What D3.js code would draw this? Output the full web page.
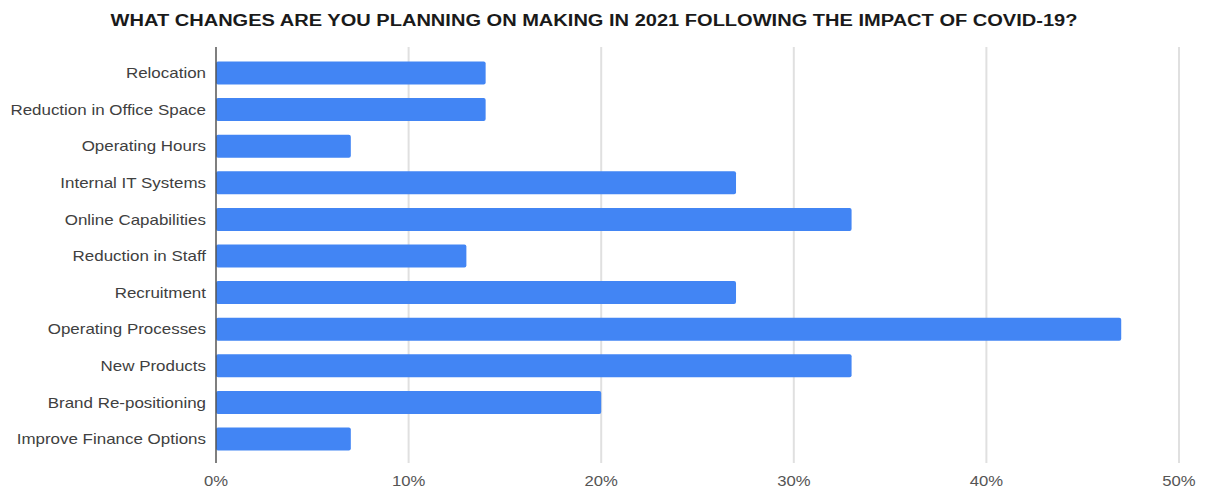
<!DOCTYPE html>
<html>
<head>
<meta charset="utf-8">
<script src="https://cdn.jsdelivr.net/npm/d3@7"></script>
<style>
  body { margin: 0; background: #fff; }
  svg { display: block; font-family: "Liberation Sans", Arial, sans-serif; }
</style>
</head>
<body>
<svg id="chart" width="1205" height="491"></svg>
<script>
const title = 'WHAT CHANGES ARE YOU PLANNING ON MAKING IN 2021 FOLLOWING THE IMPACT OF COVID-19?';
const categories = ['Relocation', 'Reduction in Office Space', 'Operating Hours', 'Internal IT Systems',
    'Online Capabilities', 'Reduction in Staff', 'Recruitment', 'Operating Processes',
    'New Products', 'Brand Re-positioning', 'Improve Finance Options'];
const values = [14, 14, 7, 27, 33, 13, 27, 47, 33, 20, 7];
const ticks = [0, 10, 20, 30, 40, 50];

const svg = d3.select('#chart');
const x = d3.scaleLinear().domain([0, 50]).range([216, 1179]);
const y = d3.scaleBand().domain(categories).range([54.7, 457.3]).paddingInner(0.372).paddingOuter(0.186);

// the source picture is a little stretched sideways, so text is widened to match
const stretch = (sel, sx) => sel.attr('transform', function () {
    const tx = +this.getAttribute('data-x'), ty = +this.getAttribute('data-y');
    return `translate(${tx},${ty}) scale(${sx},1)`;
});

// title
svg.append('text')
    .attr('data-x', 594).attr('data-y', 26)
    .attr('text-anchor', 'middle')
    .attr('font-size', 17).attr('font-weight', 'bold').attr('fill', '#1a1a1a')
    .text(title)
    .call(stretch, 1.18);

// gridlines
svg.append('g').selectAll('line')
    .data(ticks.slice(1))
    .join('line')
    .attr('x1', d => x(d)).attr('x2', d => x(d))
    .attr('y1', 47).attr('y2', 463)
    .attr('stroke', '#e0e0e0').attr('stroke-width', 2);

// bars
svg.append('g').selectAll('rect')
    .data(values)
    .join('rect')
    .attr('x', x(0))
    .attr('y', (d, i) => y(categories[i]))
    .attr('width', d => x(d) - x(0))
    .attr('height', y.bandwidth())
    .attr('rx', 2)
    .attr('fill', '#4285f4');

// zero line
svg.append('line')
    .attr('x1', x(0)).attr('x2', x(0))
    .attr('y1', 47).attr('y2', 463)
    .attr('stroke', '#555').attr('stroke-width', 1.5);

// category labels
svg.append('g').selectAll('text')
    .data(categories)
    .join('text')
    .attr('data-x', 206)
    .attr('data-y', d => y(d) + y.bandwidth() / 2)
    .attr('dy', '0.35em')
    .attr('text-anchor', 'end')
    .attr('font-size', 15).attr('fill', '#404040')
    .text(d => d)
    .call(stretch, 1.13);

// x tick labels
svg.append('g').selectAll('text')
    .data(ticks)
    .join('text')
    .attr('data-x', d => x(d))
    .attr('data-y', 486)
    .attr('text-anchor', 'middle')
    .attr('font-size', 14.5).attr('fill', '#555')
    .text(d => d + '%')
    .call(stretch, 1.15);
</script>
</body>
</html>
